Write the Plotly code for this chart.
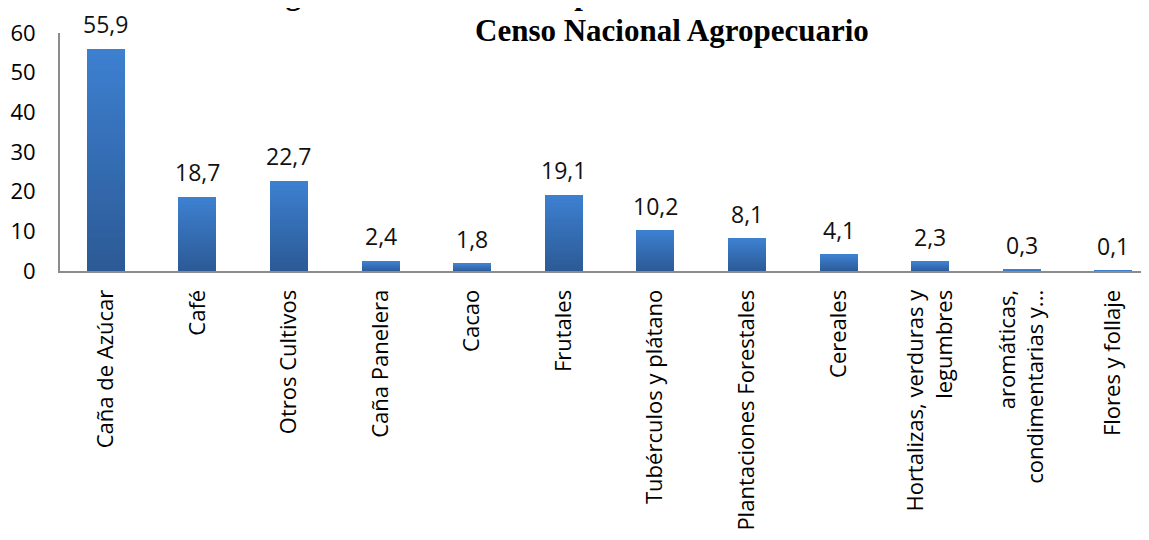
import plotly.graph_objects as go

categorias = [
    "Caña de Azúcar", "Café", "Otros Cultivos", "Caña Panelera", "Cacao",
    "Frutales", "Tubérculos y plátano", "Plantaciones Forestales", "Cereales",
    "Hortalizas, verduras y<br>legumbres", "aromáticas,<br>condimentarias y...",
    "Flores y follaje",
]
valores = [55.9, 18.7, 22.7, 2.4, 1.8, 19.1, 10.2, 8.1, 4.1, 2.3, 0.3, 0.1]
etiquetas = ["55,9", "18,7", "22,7", "2,4", "1,8", "19,1", "10,2", "8,1", "4,1", "2,3", "0,3", "0,1"]
# ticks mostrados en el eje y
y_ticks = [0, 10, 20, 30, 40, 50, 60]

# la primera línea del título queda casi fuera de la imagen
titulo_1 = "Figura 3. Área total del país en cultivos del Tercer"
titulo_2 = "Censo Nacional Agropecuario"

# degradado vertical en cada barra: oscuro abajo, claro arriba
n_seg = 40
c_bajo = (44, 90, 150)
c_alto = (61, 128, 208)

fig = go.Figure()
xs = list(range(len(categorias)))
for k in range(n_seg):
    t = k / (n_seg - 1)
    col = "rgb({},{},{})".format(*[round(a + (b - a) * t) for a, b in zip(c_bajo, c_alto)])
    fig.add_trace(go.Bar(
        x=xs,
        y=[v / n_seg for v in valores],
        width=0.415,
        marker=dict(color=col, line=dict(width=0)),
        showlegend=False,
        hoverinfo="skip",
    ))

for i, (v, txt) in enumerate(zip(valores, etiquetas)):
    fig.add_annotation(
        x=xs[i], y=v, text=txt, showarrow=False,
        yanchor="bottom", yshift=7,
        font=dict(family="Open Sans", size=23, color="#111111"),
    )

titulo_font = dict(family="Liberation Serif", size=31, color="#000000")
fig.add_annotation(
    xref="paper", yref="paper", x=0.18, y=1.0, yshift=20,
    text=f"<b>{titulo_1}</b>", showarrow=False,
    xanchor="left", yanchor="bottom", font=titulo_font,
)
fig.add_annotation(
    xref="paper", yref="paper", x=0.562, y=1.0, yshift=-17,
    text=f"<b>{titulo_2}</b>", showarrow=False,
    xanchor="center", yanchor="bottom", font=titulo_font,
)

fig.update_layout(
    barmode="stack",
    bargap=0,
    width=1141,
    height=532,
    margin=dict(l=52, r=0, t=25, b=269),
    plot_bgcolor="white",
    paper_bgcolor="white",
    xaxis=dict(
        tickmode="array",
        tickvals=xs,
        ticktext=categorias,
        tickangle=-90,
        range=[-0.5, 11.39],
        showgrid=False,
        zeroline=False,
        showline=True,
        linecolor="#8c8c8c",
        linewidth=2,
        ticks="",
        ticklabelstandoff=8,
        tickfont=dict(family="Open Sans", size=22, color="#000000"),
    ),
    yaxis=dict(
        range=[0, 60],
        tickvals=y_ticks,
        showgrid=False,
        zeroline=False,
        showline=True,
        linecolor="#8c8c8c",
        linewidth=2,
        ticks="",
        ticklabelstandoff=18,
        tickfont=dict(family="Open Sans", size=22, color="#000000"),
    ),
)

fig.write_html("out.html")
